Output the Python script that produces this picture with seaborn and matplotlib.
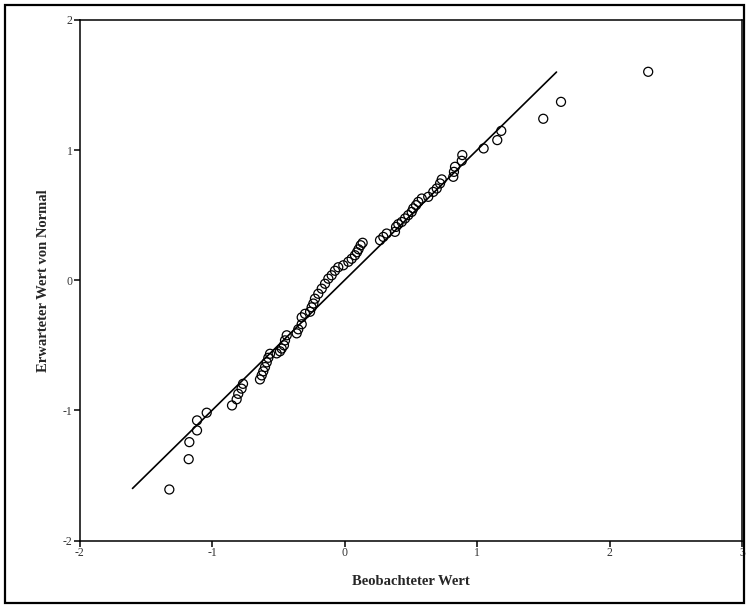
import matplotlib
matplotlib.use("Agg")
import matplotlib.pyplot as plt
import seaborn as sns
import pandas as pd
from matplotlib.patches import Rectangle

# Observed (standardized) values and expected normal values
observed = [-1.322, -1.176, -1.171, -1.113, -1.113, -1.040, -0.849, -0.814, -0.802, -0.777,
            -0.766, -0.638, -0.625, -0.613, -0.600, -0.587, -0.575, -0.562, -0.512, -0.487,
            -0.474, -0.457, -0.449, -0.436, -0.361, -0.349, -0.323, -0.323, -0.298, -0.260,
            -0.248, -0.235, -0.223, -0.198, -0.172, -0.147, -0.122, -0.097, -0.072, -0.047,
            -0.009, 0.029, 0.054, 0.079, 0.094, 0.106, 0.122, 0.137, 0.268, 0.293,
            0.318, 0.381, 0.389, 0.406, 0.432, 0.457, 0.481, 0.507, 0.519, 0.540,
            0.557, 0.583, 0.632, 0.670, 0.696, 0.721, 0.734, 0.821, 0.826, 0.834,
            0.885, 0.889, 1.050, 1.153, 1.183, 1.500, 1.634, 2.292]
expected = [-1.608, -1.375, -1.244, -1.154, -1.077, -1.018, -0.962, -0.915, -0.873, -0.833,
            -0.796, -0.762, -0.731, -0.700, -0.667, -0.631, -0.596, -0.565, -0.562, -0.546,
            -0.525, -0.500, -0.462, -0.423, -0.408, -0.377, -0.338, -0.285, -0.258, -0.242,
            -0.208, -0.179, -0.142, -0.104, -0.065, -0.027, 0.012, 0.038, 0.073, 0.100,
            0.115, 0.142, 0.165, 0.192, 0.215, 0.238, 0.269, 0.288, 0.308, 0.333,
            0.359, 0.372, 0.410, 0.431, 0.448, 0.475, 0.500, 0.525, 0.552, 0.577,
            0.602, 0.628, 0.641, 0.679, 0.705, 0.744, 0.775, 0.795, 0.833, 0.872,
            0.918, 0.962, 1.013, 1.077, 1.148, 1.241, 1.371, 1.602]
ref_line = [-1.6, 1.6]
x_ticks = [-2, -1, 0, 1, 2, 3]
y_ticks = [-2, -1, 0, 1, 2]
x_label = "Beobachteter Wert"
y_label = "Erwarteter Wert von Normal"

sns.set_style("white")
plt.rcParams["font.family"] = ["Liberation Serif", "DejaVu Serif"]
plt.rcParams["axes.unicode_minus"] = False

df = pd.DataFrame({"obs": observed, "exp": expected})
ref = pd.DataFrame({"x": ref_line, "y": ref_line})

fig = plt.figure(figsize=(7.48, 6.07), dpi=100)
ax = fig.add_axes([79.5 / 748, 1 - 540.5 / 607, (742 - 79.5) / 748, (540.5 - 20) / 607])

sns.lineplot(data=ref, x="x", y="y", ax=ax, color="black", linewidth=1.2)
sns.scatterplot(data=df, x="obs", y="exp", ax=ax, marker="o", s=42,
                facecolor="none", edgecolor="black", linewidth=0.9, zorder=3)

ax.set_xlim(-2, 3)
ax.set_ylim(-2, 2)
ax.set_xticks(x_ticks)
ax.set_yticks(y_ticks)
ax.set_xticklabels([str(v) for v in x_ticks])
ax.set_yticklabels([str(v) for v in y_ticks])
ax.tick_params(axis="both", direction="out", length=4, width=1.1, color="black",
               labelsize=8.5, labelcolor="#333333", pad=1,
               bottom=True, left=True, top=False, right=False)
for s in ax.spines.values():
    s.set_linewidth(1.1)
    s.set_color("black")

ax.set_xlabel(x_label, fontsize=10.5, fontweight="bold", labelpad=11)
ax.set_ylabel(y_label, fontsize=10.5, fontweight="bold", labelpad=9)

fig.patches.append(Rectangle((5 / 748, 4 / 607), 739 / 748, 598 / 607,
                             transform=fig.transFigure, fill=False,
                             edgecolor="black", linewidth=1.6))

fig.savefig("out.png", dpi=100)
